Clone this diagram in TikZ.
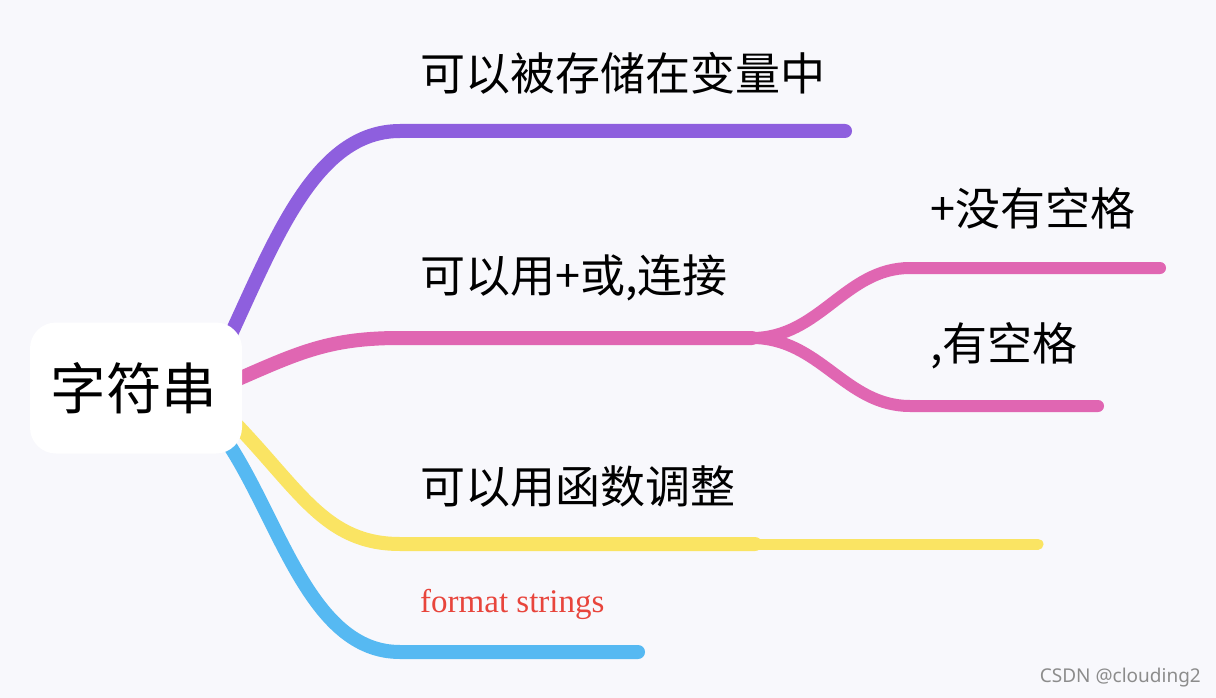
\documentclass[tikz,border=0pt]{standalone}
\usepackage{fontspec}
\newfontfamily\cjk{Noto Sans CJK SC}
\newfontfamily\wmfont{Noto Sans}
\newfontfamily\serifen{Liberation Serif}
\definecolor{bg}{HTML}{F8F8FC}
\definecolor{cpurple}{HTML}{8E5FDE}
\definecolor{cpink}{HTML}{E066B2}
\definecolor{cyellow}{HTML}{FAE463}
\definecolor{cblue}{HTML}{56B9F2}
\definecolor{cred}{HTML}{E8453C}
\begin{document}
\begin{tikzpicture}[x=1pt,y=-1pt,
  branch/.style={line width=14pt,line cap=round},
  subbranch/.style={line width=12pt,line cap=round},
  label/.style={anchor=west,inner sep=0pt,font=\cjk\fontsize{45}{50}\selectfont},
  rootbox/.style={fill=white,rounded corners=26pt,minimum width=212pt,minimum height=131pt,inner sep=0pt,font=\cjk\fontsize{55.5}{60}\selectfont}]
\useasboundingbox (0,0) rectangle (1216,698);
\fill[bg] (0,0) rectangle (1216,698);
% coordinates
\coordinate (ps) at (226,345);
\coordinate (pe) at (845,131);
\coordinate (ks) at (236,380);
\coordinate (kj) at (752,338);
\coordinate (ku) at (1160,268);
\coordinate (kd) at (1098,406);
\coordinate (ys) at (232,420);
\coordinate (yj) at (755,544);
\coordinate (ye) at (1038,544);
\coordinate (bs) at (226,440);
\coordinate (be) at (638,652);
% branches
\draw[branch,cpurple] (ps) .. controls (275,240) and (315,131) .. (400,131) -- (pe);
\draw[branch,cpink] (ks) .. controls (300,352) and (330,338) .. (400,338) -- (kj);
\draw[subbranch,cpink] (kj) .. controls (820,338) and (845,268) .. (910,268) -- (ku);
\draw[subbranch,cpink] (kj) .. controls (820,338) and (845,406) .. (910,406) -- (kd);
\draw[subbranch,cyellow,line width=11pt] (yj) -- (ye);
\draw[branch,cyellow] (ys) .. controls (300,490) and (325,544) .. (400,544) -- (yj);
\draw[branch,cblue] (bs) .. controls (280,520) and (310,652) .. (400,652) -- (be);
% root
\node[rootbox] (root) at (136,388) {\hspace*{-4pt}字符串};
% labels
\node[label] (t1) at (420,73) {可以被存储在变量中};
\node[label] (t2) at (420,278) {可以用+或,连接};
\node[label] (t3) at (930,208) {+没有空格};
\node[label] (t4) at (930,346) {,有空格};
\node[label] (t5) at (420,487) {可以用函数调整};
\node[anchor=west,inner sep=0pt,text=cred,font=\serifen\fontsize{33}{36}\selectfont] (t6) at (420,604) {format strings};
\node[anchor=east,inner sep=0pt,text=black!45,font=\wmfont\fontsize{19}{22}\selectfont] (wm) at (1201,678) {CSDN @clouding2};
\end{tikzpicture}
\end{document}
